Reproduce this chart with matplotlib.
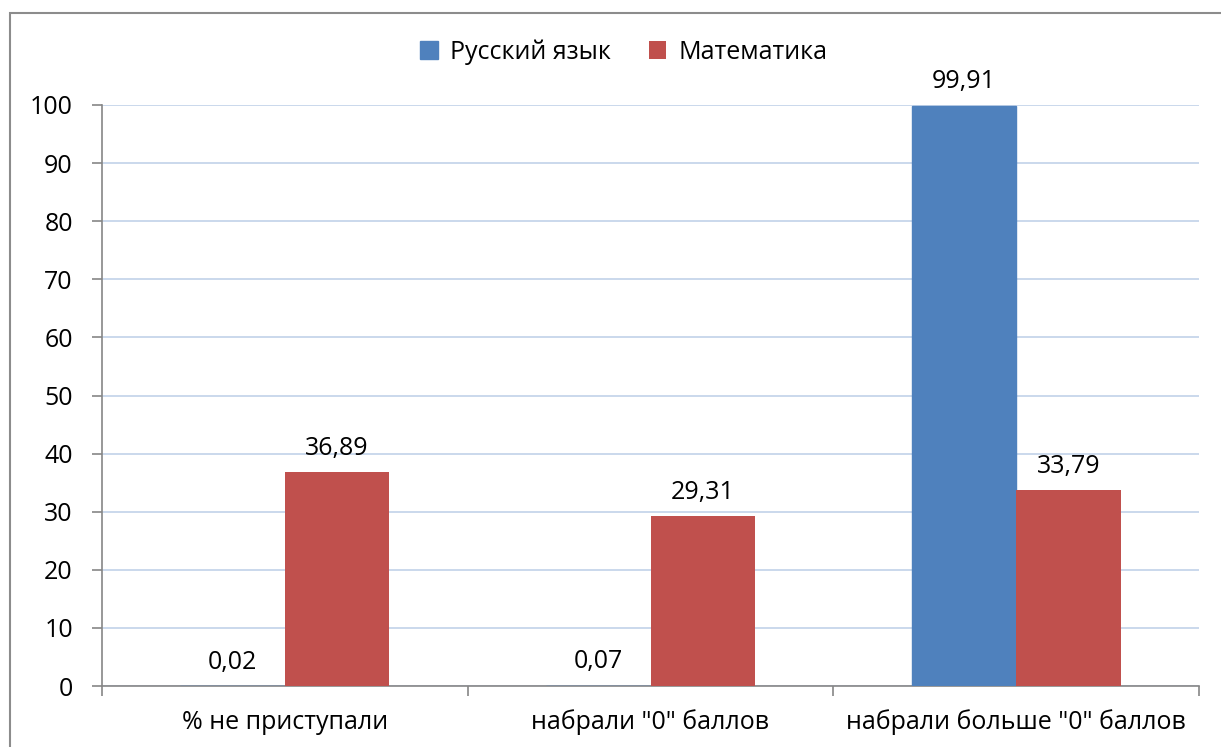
import matplotlib
matplotlib.use("Agg")
import matplotlib.pyplot as plt
from matplotlib.patches import Rectangle
import numpy as np

categories = ['% не приступали', 'набрали "0" баллов', 'набрали больше "0" баллов']
series_names = ['Русский язык', 'Математика']
russian = [0.02, 0.07, 99.91]
math_vals = [36.89, 29.31, 33.79]
labels_ru = ['0,02', '0,07', '99,91']
labels_math = ['36,89', '29,31', '33,79']
yticks = [0, 10, 20, 30, 40, 50, 60, 70, 80, 90, 100]

plt.rcParams['font.family'] = ['Open Sans', 'DejaVu Sans']
W, H = 1221, 747
FS = 18
fig = plt.figure(figsize=(W / 100, H / 100), dpi=100)
fig.patch.set_facecolor('white')

# outer chart frame (extends beyond right/bottom edges)
fig.patches.append(Rectangle((9.5 / W, -0.05), 1.2, 1 - 12.5 / H + 0.05,
                             transform=fig.transFigure, fill=False,
                             edgecolor='#8c8c8c', linewidth=1.5))

ax = fig.add_axes([102 / W, 1 - 686 / H, (1199 - 102) / W, (686 - 105) / H])
x = np.arange(len(categories))
bw = 0.2857
c_blue = '#4F81BD'
c_red = '#C0504D'
b1 = ax.bar(x - bw / 2, russian, bw, color=c_blue, edgecolor=c_blue,
            linewidth=1.0, label=series_names[0], zorder=3)
b2 = ax.bar(x + bw / 2, math_vals, bw, color=c_red, label=series_names[1], zorder=3)

for xi, v, t in zip(x - bw / 2, russian, labels_ru):
    ax.annotate(t, (xi, v), xytext=(0, 8), textcoords='offset points',
                ha='center', va='bottom', fontsize=FS, color='black')
for xi, v, t in zip(x + bw / 2, math_vals, labels_math):
    ax.annotate(t, (xi, v), xytext=(0, 8), textcoords='offset points',
                ha='center', va='bottom', fontsize=FS, color='black')

ax.set_xlim(-0.5, len(categories) - 0.5)
ax.set_ylim(0, 100)
ax.set_yticks(yticks)
ax.set_yticklabels([str(v) for v in yticks], fontsize=FS)
ax.yaxis.grid(True, color='#C6D6EA', linewidth=1.3, zorder=0)
ax.set_axisbelow(True)

# category boundaries ticks
ax.set_xticks(np.arange(-0.5, len(categories), 1.0))
ax.set_xticklabels([])
ax.set_xticks(x, minor=True)
ax.set_xticklabels(categories, minor=True, fontsize=FS)
ax.tick_params(axis='x', which='minor', length=0, pad=17)
ax.tick_params(axis='x', which='major', length=7, color='#868686', width=1.2)
ax.tick_params(axis='y', length=7, color='#868686', width=1.2, pad=14)

for s in ['top', 'right']:
    ax.spines[s].set_visible(False)
for s in ['left', 'bottom']:
    ax.spines[s].set_color('#868686')
    ax.spines[s].set_linewidth(1.2)

fig.legend(handles=[b1, b2], labels=series_names, loc='center',
           bbox_to_anchor=(624 / W, 1 - 52 / H), ncol=2, frameon=False,
           fontsize=FS, handlelength=0.7, handleheight=0.7,
           handletextpad=0.5, columnspacing=1.5)

fig.savefig('out.png', dpi=100, facecolor='white')
